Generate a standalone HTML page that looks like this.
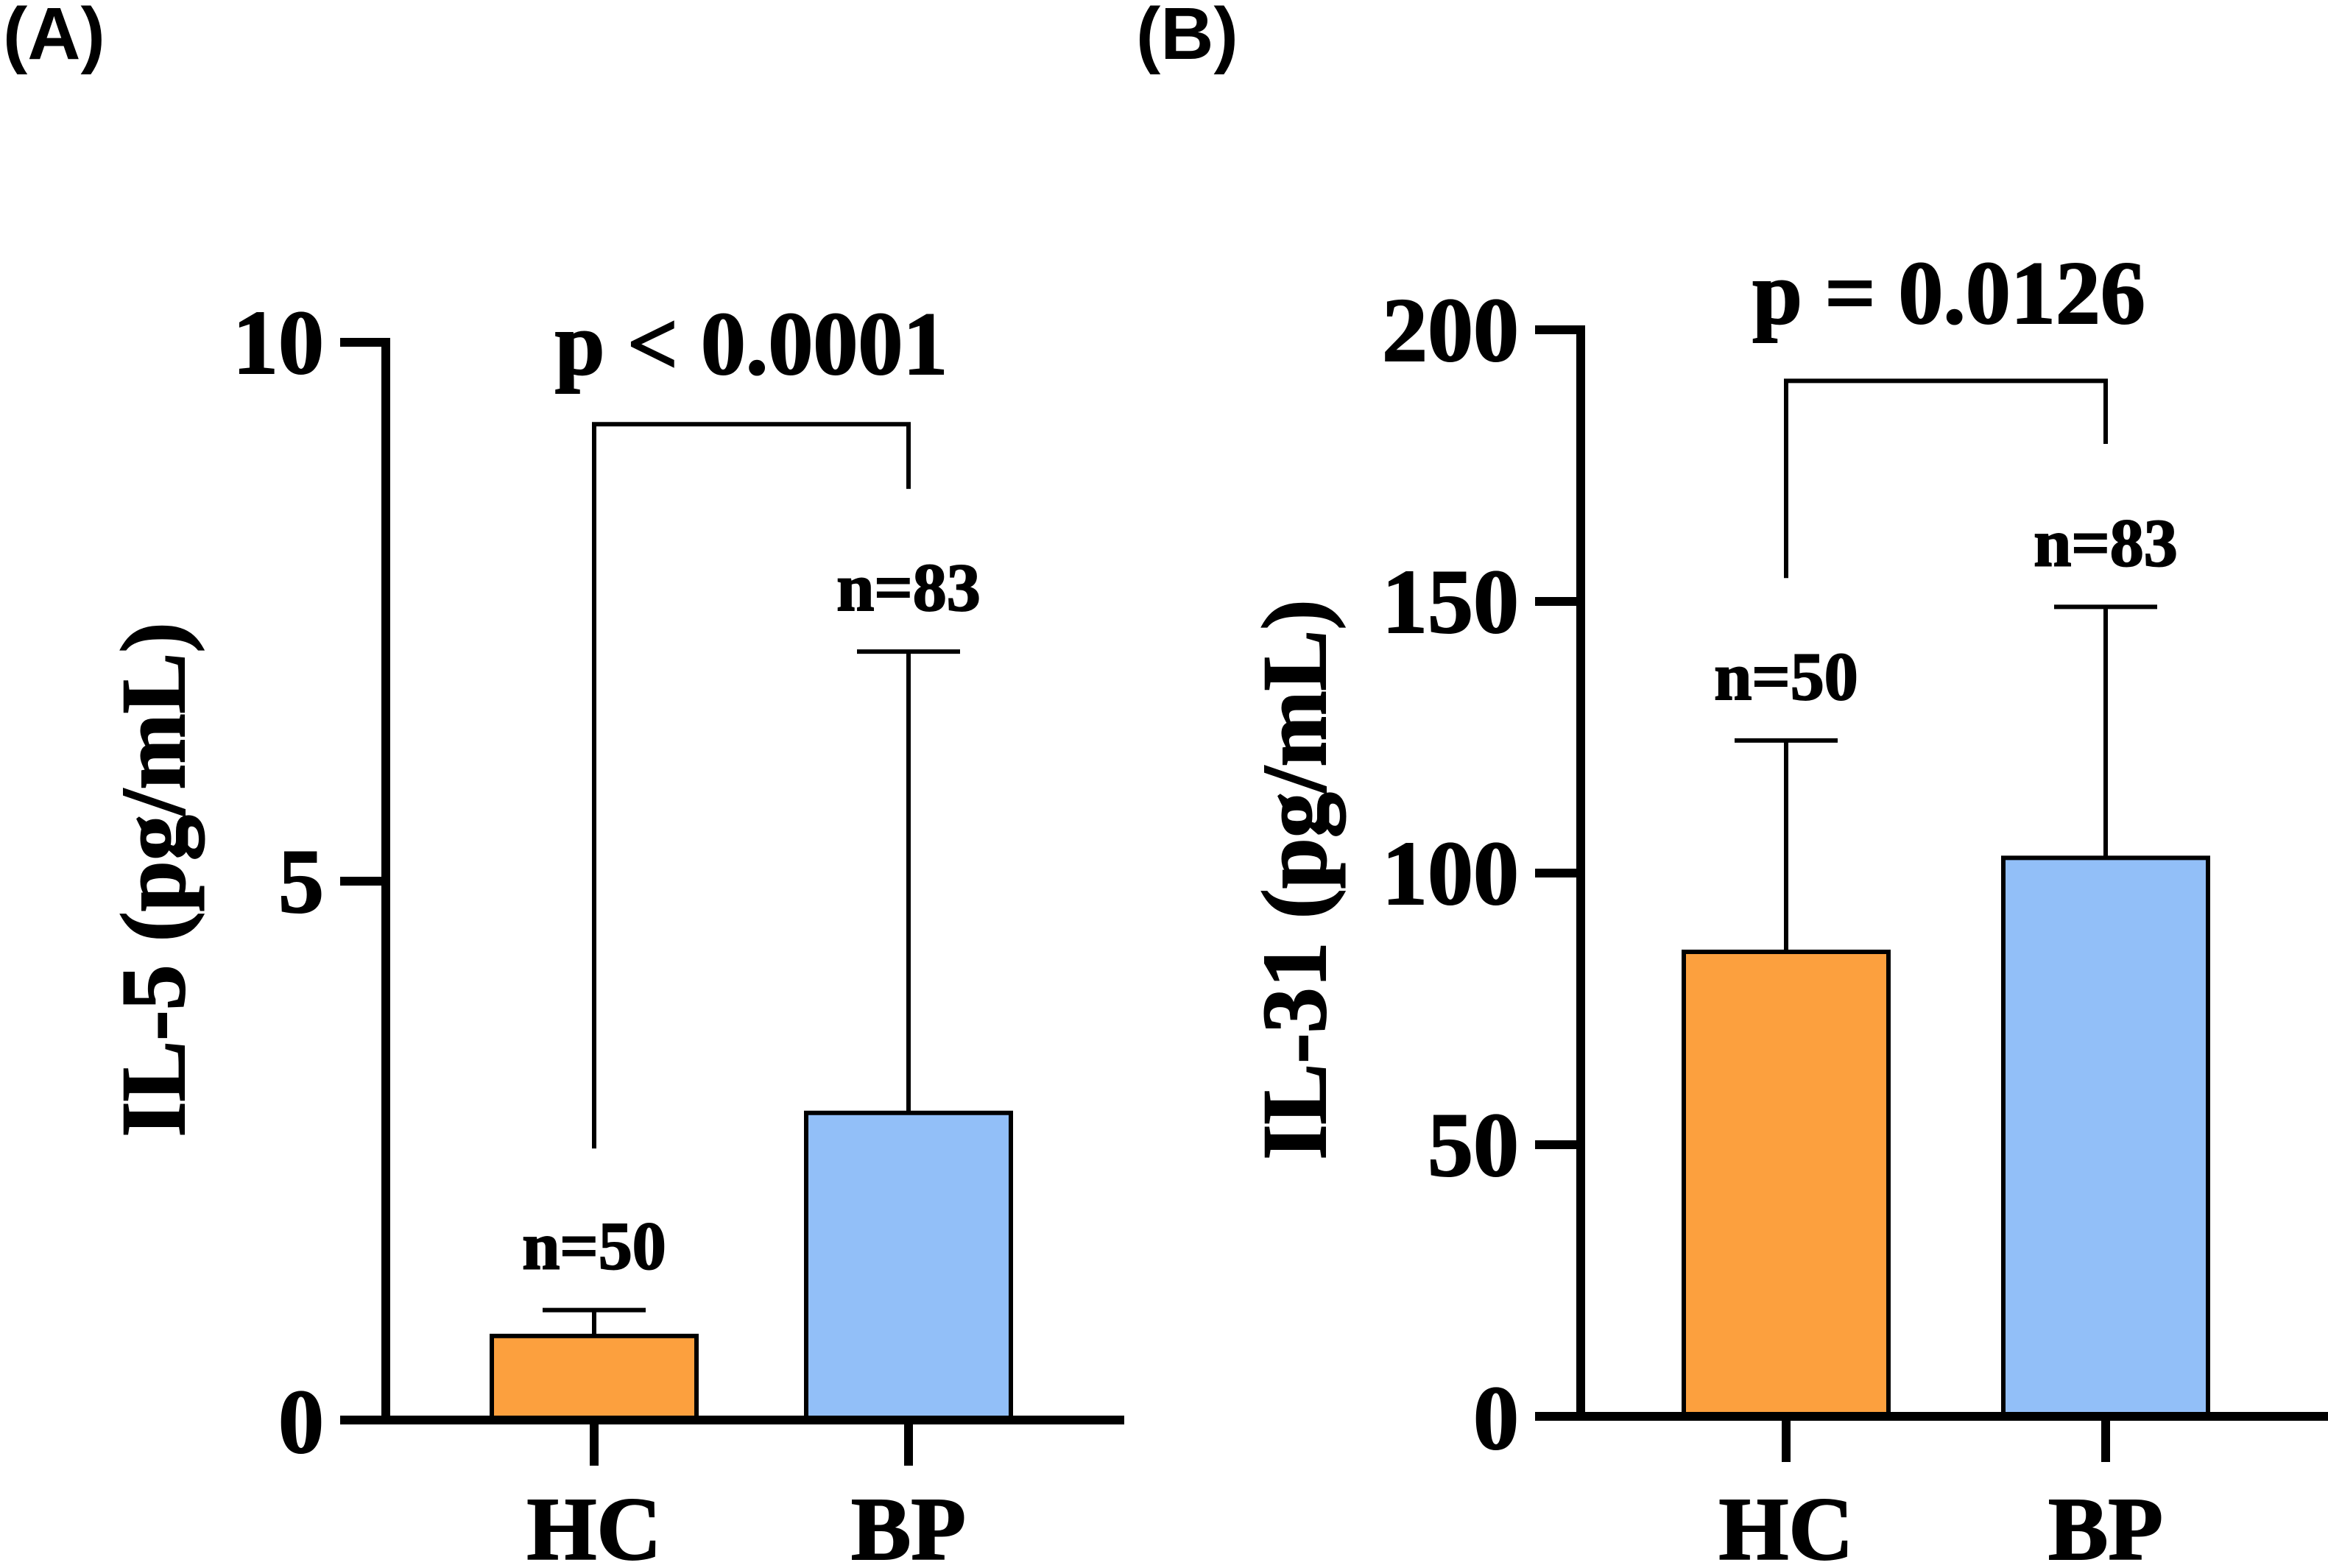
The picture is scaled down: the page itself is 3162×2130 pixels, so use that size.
<!DOCTYPE html>
<html><head><meta charset="utf-8"><style>
html,body{margin:0;padding:0;background:#fff}
svg{display:block}
text{font-family:"Liberation Serif",serif;font-weight:bold;fill:#000;stroke:#000;stroke-width:2}
.lab{font-family:"Liberation Sans",sans-serif;stroke-width:0}
</style></head><body>
<svg id="chart" width="3162" height="2130" viewBox="0 0 3162 2130" xmlns="http://www.w3.org/2000/svg"></svg>
<script>
// Panel A data
const categoriesA = ["HC", "BP"];
const meansA = [0.78, 2.85];
const errTopsA = [1.02, 7.13];
const nLabelsA = ["n=50", "n=83"];
const ticksA = [0, 5, 10];
const bracketA = [2.52, 9.24, 8.64];
const pTextA = "p < 0.0001";
// Panel B data
const categoriesB = ["HC", "BP"];
const meansB = [85.5, 102.8];
const errTopsB = [124.4, 149];
const nLabelsB = ["n=50", "n=83"];
const ticksB = [0, 50, 100, 150, 200];
const bracketB = [154.3, 190.6, 179];
const pTextB = "p = 0.0126";

const svg = document.getElementById('chart');
const NS = 'http://www.w3.org/2000/svg';
function mk(tag, attrs, parent) {
  const e = document.createElementNS(NS, tag);
  for (const k in attrs) e.setAttribute(k, attrs[k]);
  (parent || svg).appendChild(e);
  return e;
}
const colors = ["#FCA03E", "#92BFF8"];

function panel(cfg) {
  const g = mk('g', {});
  
  
  const y = v => cfg.y0 - (v - 0) / cfg.ymax * (cfg.y0 - cfg.yTop);
  const pl = mk('text', {x: cfg.labelX, y: 80, 'font-size': 100, class: 'lab'}, g);
  pl.textContent = cfg.label;
  
  
  const yt = mk('text', {x: 0, y: 0, 'font-size': 124, 'text-anchor': 'middle',
    transform: `translate(${cfg.titleX},1195) rotate(-90)`}, g);
  yt.textContent = cfg.title;
  
  
  cfg.cats.forEach((c, i) => {
    const cx = cfg.xs[i];
    const top = y(cfg.means[i]);
    const et = y(cfg.errs[i]);
    const eb = mk('line', {x1: cx, x2: cx, y1: top, y2: et, stroke: '#000', 'stroke-width': 6}, g);
    
    
    const cap = mk('line', {x1: cx - 70, x2: cx + 70, y1: et, y2: et, stroke: '#000', 'stroke-width': 6}, g);
    
    
    const r = mk('rect', {x: cx - 139, y: top, width: 278, height: cfg.y0 - top,
      fill: colors[i], stroke: '#000', 'stroke-width': 6}, g);
    
    
    const nt = mk('text', {x: cx, y: et - 56, 'font-size': 92, 'text-anchor': 'middle'}, g);
    nt.textContent = cfg.ns[i];
    
    
    const tk = mk('line', {x1: cx, x2: cx, y1: cfg.y0, y2: cfg.y0 + 62, stroke: '#000', 'stroke-width': 12}, g);
    
    
    const xl = mk('text', {x: cx, y: 2118, 'font-size': 122, 'text-anchor': 'middle'}, g);
    xl.textContent = c;
    
    
  });
  const ya = mk('line', {x1: cfg.ax, x2: cfg.ax, y1: cfg.yTop - 6, y2: cfg.y0 + 6, stroke: '#000', 'stroke-width': 12}, g);
  
  
  const xa = mk('line', {x1: cfg.ax - 62, x2: cfg.xEnd, y1: cfg.y0, y2: cfg.y0, stroke: '#000', 'stroke-width': 12}, g);
  
  
  cfg.ticks.forEach(t => {
    const ty = y(t);
    const tl = mk('line', {x1: cfg.ax - 62, x2: cfg.ax, y1: ty, y2: ty, stroke: '#000', 'stroke-width': 12}, g);
    
    
    const tx = mk('text', {x: cfg.ax - 84, y: ty + (t === 0 ? 44 : 42), 'font-size': 124, 'text-anchor': 'end'}, g);
    tx.textContent = t;
    
    
  });
  const b = cfg.bracket;
  const br = mk('polyline', {points: `${cfg.xs[0]},${y(b[0])} ${cfg.xs[0]},${y(b[1])} ${cfg.xs[1]},${y(b[1])} ${cfg.xs[1]},${y(b[2])}`,
    fill: 'none', stroke: '#000', 'stroke-width': 6}, g);
  
  
  const pt = mk('text', {x: (cfg.xs[0] + cfg.xs[1]) / 2 + cfg.pdx, y: cfg.pY, 'font-size': 122, 'text-anchor': 'middle'}, g);
  pt.textContent = cfg.p;
  
  
}

panel({name: 'panel-a', label: '(A)', labelX: 4, title: 'IL-5 (pg/mL)', titleX: 250,
  cats: categoriesA, means: meansA, errs: errTopsA, ns: nLabelsA, ticks: ticksA, bracket: bracketA, p: pTextA,
  ax: 524, y0: 1929, yTop: 465, ymax: 10, xEnd: 1527, xs: [807, 1234], pY: 508, pdx: 0});
panel({name: 'panel-b', label: '(B)', labelX: 1543, title: 'IL-31 (pg/mL)', titleX: 1800,
  cats: categoriesB, means: meansB, errs: errTopsB, ns: nLabelsB, ticks: ticksB, bracket: bracketB, p: pTextB,
  ax: 2147, y0: 1924, yTop: 448, ymax: 200, xEnd: 3162, xs: [2426, 2860], pY: 439, pdx: 4});
</script>
</body></html>
